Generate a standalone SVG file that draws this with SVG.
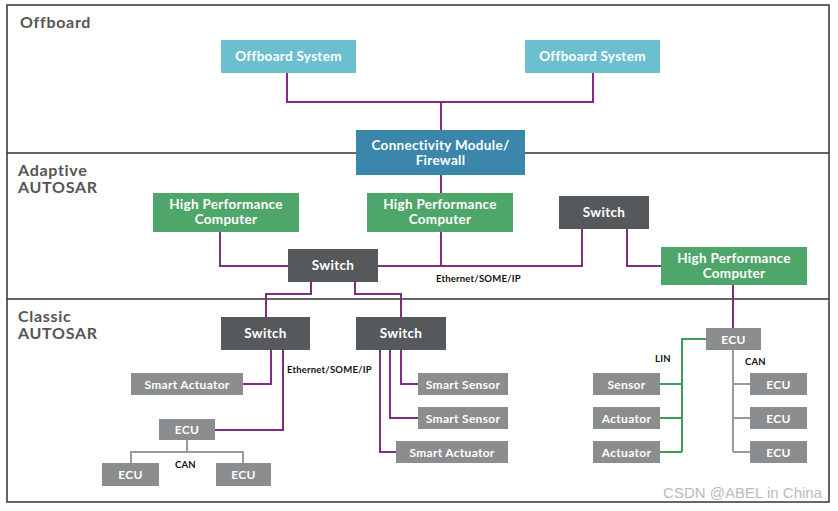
<svg xmlns="http://www.w3.org/2000/svg" width="838" height="511" viewBox="0 0 838 511">
<style>
.t{font-family:Lato,"Open Sans","DejaVu Sans",sans-serif;font-weight:bold;fill:#fff;font-size:13.5px;letter-spacing:0.3px;text-anchor:middle}
.s{font-size:12px}
.sec{font-family:Lato,"Open Sans","DejaVu Sans",sans-serif;font-weight:bold;fill:#555;font-size:16px;letter-spacing:0.7px}
.lbl{font-family:Lato,"Open Sans","DejaVu Sans",sans-serif;font-weight:bold;fill:#111;font-size:9.5px;letter-spacing:0.2px}
.off{fill:#6cbfcf}.con{fill:#3b86ab}.hpc{fill:#4fa66a}.sw{fill:#56595c}.g{fill:#8c8d8f}
.p{fill:none;stroke:#7d2e7e;stroke-width:2}
.gl{fill:none;stroke:#3c9e5a;stroke-width:2}
.gy{fill:none;stroke:#9a9a9a;stroke-width:2}
</style>
<rect width="838" height="511" fill="#fff"/>
<rect x="7" y="5" width="822" height="497" fill="none" stroke="#333" stroke-width="1.5"/>
<line x1="7" y1="153" x2="829" y2="153" stroke="#333" stroke-width="1.5"/>
<line x1="7" y1="299" x2="829" y2="299" stroke="#333" stroke-width="1.5"/>
<text class="sec" x="20" y="28">Offboard</text>
<text class="sec" x="18" y="176">Adaptive</text>
<text class="sec" x="18" y="193">AUTOSAR</text>
<text class="sec" x="18" y="322">Classic</text>
<text class="sec" x="18" y="339">AUTOSAR</text>

<g id="connectors">
<path class="p" d="M287 73V102H593V73M441 102V130"/>
<path class="p" d="M441 175V193"/>
<path class="p" d="M220 232V266H288M378 266H582V229M441 232V266"/>
<path class="p" d="M627 229V266H661"/>
<path class="p" d="M311 282V294H266V317M355 282V294H401V317"/>
<path class="p" d="M271 350V384H243M283 350V430H215"/>
<path class="p" d="M401 350V384H418M390 350V418H418M380 350V452H396"/>
<path class="p" d="M733 285V328"/>
<path class="gy" d="M187 440V452M131 463V452H243V463"/>
<path class="gl" d="M706 339H682V452M660 384H682M660 418H682M660 452H682"/>
<path class="gy" d="M733 350V452M733 384H750M733 418H750M733 452H750"/>
</g>
<text class="lbl" x="436" y="282">Ethernet/SOME/IP</text>
<text class="lbl" x="287" y="373">Ethernet/SOME/IP</text>
<text class="lbl" x="175" y="468">CAN</text>
<text class="lbl" x="655" y="362">LIN</text>
<text class="lbl" x="745" y="365">CAN</text>

<g id="offboard1"><rect class="off" x="221" y="40" width="135" height="33"/><text class="t" x="288.5" y="61">Offboard System</text></g>
<g id="offboard2"><rect class="off" x="525" y="40" width="135" height="33"/><text class="t" x="592.5" y="61">Offboard System</text></g>
<g id="connectivity"><rect class="con" x="356" y="130" width="169" height="45"/><text class="t" x="440.5" y="150">Connectivity Module/</text><text class="t" x="440.5" y="165">Firewall</text></g>
<g id="hpc1"><rect class="hpc" x="153" y="193" width="146" height="39"/><text class="t" x="226" y="209">High Performance</text><text class="t" x="226" y="224">Computer</text></g>
<g id="hpc2"><rect class="hpc" x="367" y="193" width="146" height="39"/><text class="t" x="440" y="209">High Performance</text><text class="t" x="440" y="224">Computer</text></g>
<g id="switch-a2"><rect class="sw" x="559" y="196" width="90" height="33"/><text class="t" x="604" y="217">Switch</text></g>
<g id="hpc3"><rect class="hpc" x="661" y="247" width="146" height="38"/><text class="t" x="734" y="263">High Performance</text><text class="t" x="734" y="278">Computer</text></g>
<g id="switch-a1"><rect class="sw" x="288" y="249" width="90" height="33"/><text class="t" x="333" y="270">Switch</text></g>
<g id="switch-c1"><rect class="sw" x="221" y="317" width="89" height="33"/><text class="t" x="265.5" y="338">Switch</text></g>
<g id="switch-c2"><rect class="sw" x="356" y="317" width="90" height="33"/><text class="t" x="401" y="338">Switch</text></g>
<g id="smart-actuator1"><rect class="g" x="131" y="373" width="112" height="22"/><text class="t s" x="187" y="388.5">Smart Actuator</text></g>
<g id="ecu1"><rect class="g" x="159" y="419" width="56" height="21"/><text class="t s" x="187" y="434">ECU</text></g>
<g id="ecu2"><rect class="g" x="102" y="463" width="57" height="23"/><text class="t s" x="130.5" y="479">ECU</text></g>
<g id="ecu3"><rect class="g" x="216" y="463" width="55" height="23"/><text class="t s" x="243.5" y="479">ECU</text></g>
<g id="smart-sensor1"><rect class="g" x="418" y="373" width="90" height="22"/><text class="t s" x="463" y="388.5">Smart Sensor</text></g>
<g id="smart-sensor2"><rect class="g" x="418" y="407" width="90" height="22"/><text class="t s" x="463" y="422.5">Smart Sensor</text></g>
<g id="smart-actuator2"><rect class="g" x="396" y="441" width="112" height="22"/><text class="t s" x="452" y="456.5">Smart Actuator</text></g>
<g id="ecu4"><rect class="g" x="706" y="328" width="55" height="22"/><text class="t s" x="733.5" y="343.5">ECU</text></g>
<g id="sensor"><rect class="g" x="593" y="373" width="67" height="22"/><text class="t s" x="626.5" y="388.5">Sensor</text></g>
<g id="actuator1"><rect class="g" x="593" y="407" width="67" height="22"/><text class="t s" x="626.5" y="422.5">Actuator</text></g>
<g id="actuator2"><rect class="g" x="593" y="441" width="67" height="22"/><text class="t s" x="626.5" y="456.5">Actuator</text></g>
<g id="ecu5"><rect class="g" x="750" y="373" width="57" height="22"/><text class="t s" x="778.5" y="388.5">ECU</text></g>
<g id="ecu6"><rect class="g" x="750" y="407" width="57" height="22"/><text class="t s" x="778.5" y="422.5">ECU</text></g>
<g id="ecu7"><rect class="g" x="750" y="441" width="57" height="22"/><text class="t s" x="778.5" y="456.5">ECU</text></g>
<text x="822" y="498" text-anchor="end" font-family="'Liberation Sans',Arial,sans-serif" font-size="15" fill="#bbb">CSDN @ABEL in China</text>
</svg>
